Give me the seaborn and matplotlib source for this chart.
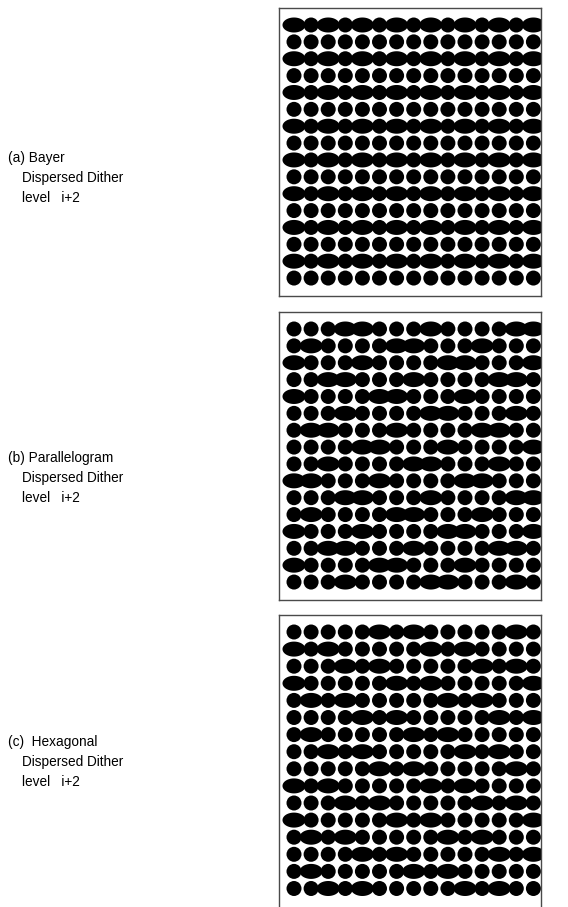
import numpy as np
import pandas as pd
import matplotlib
matplotlib.use("Agg")
import matplotlib.pyplot as plt
from matplotlib.path import Path
import seaborn as sns

# ---------------- data: each screen is 16 rows x 15 columns ----------------
# 'O' = grown (elongated) dot, 'o' = round dot
bayer_rows = [
    "OoOoOoOoOoOoOoO",
    "ooooooooooooooo",
    "OoOoOoOoOoOoOoO",
    "ooooooooooooooo",
    "OoOoOoOoOoOoOoO",
    "ooooooooooooooo",
    "OoOoOoOoOoOoOoO",
    "ooooooooooooooo",
    "OoOoOoOoOoOoOoO",
    "ooooooooooooooo",
    "OoOoOoOoOoOoOoO",
    "ooooooooooooooo",
    "OoOoOoOoOoOoOoO",
    "ooooooooooooooo",
    "OoOoOoOoOoOoOoO",
    "ooooooooooooooo",
]

parallelogram_rows = [
    "oooOOoooOooooOO",
    "oOooooOOoooOooo",
    "OoooOooooOOoooO",
    "ooOOoooOooooOOo",
    "OooooOOoooOoooo",
    "oooOooooOOoooOo",
    "oOOoooOooooOOoo",
    "ooooOOoooOooooO",
    "ooOooooOOoooOoo",
    "OOoooOooooOOooo",
    "oooOOoooOooooOO",
    "oOooooOOoooOooo",
    "OoooOooooOOoooO",
    "ooOOoooOooooOOo",
    "OooooOOoooOoooo",
    "oooOooooOOoooOo",
]

hexagonal_rows = [
    "oooooOoOoooooOo",
    "OoOoooooOoOoooo",
    "oooOoOoooooOoOo",
    "OoooooOoOoooooO",
    "oOoOoooooOoOooo",
    "ooooOoOoooooOoO",
    "oOoooooOoOooooo",
    "ooOoOoooooOoOoo",
    "oooooOoOoooooOo",
    "OoOoooooOoOoooo",
    "oooOoOoooooOoOo",
    "OoooooOoOoooooO",
    "oOoOoooooOoOooo",
    "ooooOoOoooooOoO",
    "oOoooooOoOooooo",
    "ooOoOoooooOoOoo",
]

label_lines = [
    ["(a) Bayer", "Dispersed Dither", "level   i+2"],
    ["(b) Parallelogram", "Dispersed Dither", "level   i+2"],
    ["(c)  Hexagonal", "Dispersed Dither", "level   i+2"],
]

screens = [bayer_rows, parallelogram_rows, hexagonal_rows]

# ---------------- layout (pixels) ----------------
W, H = 568, 907
DPI = 100
box_left, box_w = 279, 262
box_tops = [8, 312, 615]
box_hs = [288, 288, 296]
row_pitches = [16.87, 16.87, 17.1]
col_pitch = 17.1
first_col_off, first_row_off = 15.0, 17.0
label_y = [[158, 178, 198], [458, 478, 498], [742, 762, 782]]
label_x = [8, 22, 22]

dot_d_px = 15.0
wide_w_px = 23.0
px2pt = 72.0 / DPI

theta = np.linspace(0, 2 * np.pi, 121)
aspect = wide_w_px / dot_d_px
ellipse_marker = Path(np.column_stack([np.cos(theta), np.sin(theta) / aspect]), closed=True)

sns.set_style("white")
plt.rcParams["font.family"] = ["Liberation Sans", "DejaVu Sans"]

fig = plt.figure(figsize=(W / DPI, H / DPI), dpi=DPI)
fig.patch.set_facecolor("white")

for k, rows in enumerate(screens):
    recs = []
    for r, line in enumerate(rows):
        for c, ch in enumerate(line):
            recs.append({"row": r, "col": c, "kind": "wide" if ch == "O" else "round"})
    df = pd.DataFrame(recs)

    top, bh, rp = box_tops[k], box_hs[k], row_pitches[k]
    ax = fig.add_axes([box_left / W, 1 - (top + bh) / H, box_w / W, bh / H])
    ax.set_facecolor("white")

    sns.scatterplot(data=df[df.kind == "round"], x="col", y="row", ax=ax,
                    marker="o", s=(dot_d_px * px2pt) ** 2, color="black",
                    edgecolor="none", linewidth=0, legend=False)
    sns.scatterplot(data=df[df.kind == "wide"], x="col", y="row", ax=ax,
                    marker=ellipse_marker, s=(wide_w_px * px2pt) ** 2, color="black",
                    edgecolor="none", linewidth=0, legend=False)

    ax.set_xlim(-first_col_off / col_pitch, (box_w - first_col_off) / col_pitch)
    ax.set_ylim((bh - first_row_off) / rp, -first_row_off / rp)
    ax.set_xticks([])
    ax.set_yticks([])
    ax.set_xlabel("")
    ax.set_ylabel("")
    for sp in ax.spines.values():
        sp.set_visible(True)
        sp.set_color("#4a4a4a")
        sp.set_linewidth(1.0)

    for i, txt in enumerate(label_lines[k]):
        fig.text(label_x[i] / W, 1 - label_y[k][i] / H, txt, ha="left", va="center",
                 fontsize=9.8, color="black")

fig.savefig("out.png", dpi=DPI, facecolor="white")
